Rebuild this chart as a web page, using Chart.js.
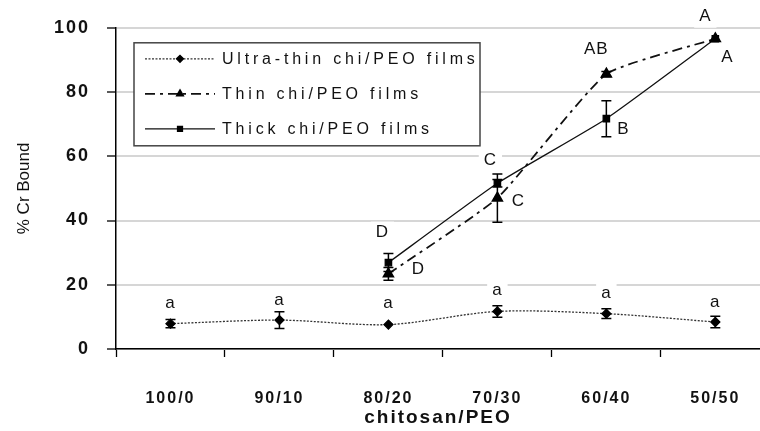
<!DOCTYPE html>
<html>
<head>
<meta charset="utf-8">
<script src="https://cdn.jsdelivr.net/npm/chart.js@4.4.1/dist/chart.umd.min.js"></script>
<style>
body { margin: 0; background: #fff; overflow: hidden; }
</style>
</head>
<body>
<canvas id="chart" width="760" height="431"></canvas>
<script>
// data
const categories = ['100/0', '90/10', '80/20', '70/30', '60/40', '50/50'];
const seriesNames = ['Ultra-thin chi/PEO films', 'Thin chi/PEO films', 'Thick chi/PEO films'];
const ultraThin = [7.9, 9.0, 7.6, 11.7, 11.0, 8.4];
const ultraThinErr = [1.3, 2.6, 0, 1.8, 1.5, 1.8];
const thin = [null, null, 23.4, 47.0, 85.6, 96.6];
const thinErr = [null, null, 2.0, 7.5, 0.8, 0];
const thick = [null, null, 26.9, 51.6, 71.7, 96.6];
const thickErr = [null, null, 2.8, 1.2, 5.6, 0];
const ultraThinLetters = ['a', 'a', 'a', 'a', 'a', 'a'];
const thinLetters = [null, null, 'D', 'C', 'AB', 'A'];
const thickLetters = [null, null, 'D', 'C', 'B', 'A'];

// where each letter sits relative to its point (px)
const ultraThinLetterPos = [[0, -20], [0, -20], [0, -21], [0, -21], [0, -20], [0, -20]];
const thinLetterPos = [null, null, [30, -5], [21, 3], [-10, -25], [-10, -22]];
const thickLetterPos = [null, null, [-6, -30], [-7, -23], [17, 11], [12, 19]];

const errors = [ultraThinErr, thinErr, thickErr];
const letters = [ultraThinLetters, thinLetters, thickLetters];
const letterPos = [ultraThinLetterPos, thinLetterPos, thickLetterPos];

const FONT = '"Liberation Sans", Arial, sans-serif';

function toPoints(arr) {
    return arr.map((v, i) => ({x: i, y: v}));
}

// error bars
const errorBars = {
    id: 'errorBars',
    afterDatasetsDraw(chart) {
        const ctx = chart.ctx;
        const xs = chart.scales.x, ys = chart.scales.y;
        ctx.save();
        ctx.strokeStyle = '#000';
        ctx.lineWidth = 1.5;
        errors.forEach((errs, d) => {
            const vals = chart.data.datasets[d].data;
            errs.forEach((e, i) => {
                if (!e || vals[i].y === null) return;
                const px = xs.getPixelForValue(i);
                const top = ys.getPixelForValue(vals[i].y + e);
                const bot = ys.getPixelForValue(vals[i].y - e);
                ctx.beginPath();
                ctx.moveTo(px, top); ctx.lineTo(px, bot);
                ctx.moveTo(px - 5, top); ctx.lineTo(px + 5, top);
                ctx.moveTo(px - 5, bot); ctx.lineTo(px + 5, bot);
                ctx.stroke();
            });
        });
        ctx.restore();
    }
};

// letter annotations + the legend box
function letterSpots(chart) {
    const out = [];
    const xs = chart.scales.x, ys = chart.scales.y;
    letters.forEach((arr, d) => {
        const vals = chart.data.datasets[d].data;
        arr.forEach((t, i) => {
            if (!t) return;
            const p = letterPos[d][i];
            out.push({t: t, x: xs.getPixelForValue(i) + p[0], y: ys.getPixelForValue(vals[i].y) + p[1]});
        });
    });
    return out;
}

const annotations = {
    id: 'annotations',
    beforeDraw(chart) {
        chart.ctx.letterSpacing = '2px';
        const s = chart.scales.y;
        if (!s._plainTitle) {
            const orig = s.drawTitle;
            s.drawTitle = function () {
                const c = this.ctx;
                const ls = c.letterSpacing;
                c.letterSpacing = '0px';
                orig.call(this);
                c.letterSpacing = ls;
            };
            s._plainTitle = true;
        }
    },
    beforeDatasetsDraw(chart) {
        const ctx = chart.ctx;
        const area = chart.chartArea;
        ctx.save();
        ctx.font = '17px ' + FONT;
        ctx.letterSpacing = '1px';
        ctx.fillStyle = '#fff';
        letterSpots(chart).forEach(s => {
            const w = ctx.measureText(s.t).width + 10;
            ctx.fillRect(s.x - w / 2, s.y - 11, w, 22);
        });

        // legend
        const left = area.left + 18, top = area.top + 15;
        const w = 346, h = 103;
        ctx.fillStyle = '#fff';
        ctx.fillRect(left, top, w, h);
        ctx.strokeStyle = '#444';
        ctx.lineWidth = 1.5;
        ctx.strokeRect(left, top, w, h);
        chart.data.datasets.forEach((ds, i) => {
            const y = top + 16 + i * 35;
            ctx.strokeStyle = ds.borderColor;
            ctx.lineWidth = ds.borderWidth;
            ctx.setLineDash(ds.borderDash || []);
            ctx.beginPath();
            ctx.moveTo(left + 11, y);
            ctx.lineTo(left + 81, y);
            ctx.stroke();
            ctx.setLineDash([]);
            ctx.fillStyle = '#000';
            ctx.strokeStyle = '#000';
            Chart.helpers.drawPoint(ctx, {pointStyle: ds.pointStyle, radius: 3.5, borderWidth: 1, rotation: 0}, left + 46, y);
            ctx.fillStyle = '#111';
            ctx.font = '16px ' + FONT;
            ctx.letterSpacing = '3.8px';
            ctx.textAlign = 'left';
            ctx.textBaseline = 'middle';
            ctx.fillText(ds.label, left + 88, y + 1);
        });
        ctx.restore();
    },
    afterDatasetsDraw(chart) {
        const ctx = chart.ctx;
        ctx.save();
        ctx.font = '17px ' + FONT;
        ctx.letterSpacing = '1px';
        ctx.fillStyle = '#111';
        ctx.textAlign = 'center';
        ctx.textBaseline = 'middle';
        letterSpots(chart).forEach(s => ctx.fillText(s.t, s.x, s.y));
        ctx.restore();
    }
};

new Chart(document.getElementById('chart'), {
    type: 'line',
    data: {
        datasets: [{
            label: seriesNames[0],
            data: toPoints(ultraThin),
            borderColor: '#333',
            borderWidth: 1.3,
            borderDash: [2, 1.5],
            pointStyle: 'rectRot',
            pointRadius: 4.5,
            pointBackgroundColor: '#000',
            pointBorderColor: '#000',
            tension: 0.3
        }, {
            label: seriesNames[1],
            data: toPoints(thin),
            borderColor: '#111',
            borderWidth: 1.8,
            borderDash: [10, 5, 3, 5],
            pointStyle: 'triangle',
            pointRadius: 5.5,
            pointBackgroundColor: '#000',
            pointBorderColor: '#000',
            tension: 0.15
        }, {
            label: seriesNames[2],
            data: toPoints(thick),
            borderColor: '#111',
            borderWidth: 1.3,
            pointStyle: 'rect',
            pointRadius: 4.5,
            pointBackgroundColor: '#000',
            pointBorderColor: '#000',
            tension: 0.15
        }]
    },
    options: {
        responsive: false,
        animation: false,
        layout: { autoPadding: false, padding: { top: 25, right: 0, bottom: 0, left: 0 } },
        plugins: {
            legend: { display: false },
            tooltip: { enabled: false }
        },
        scales: {
            x: {
                type: 'linear',
                min: -0.5,
                max: 5.41,
                afterBuildTicks: s => { s.ticks = categories.map((c, i) => ({value: i})); },
                afterFit: s => { s.height = 82; s.paddingLeft = 0; s.paddingRight = 0; },
                ticks: {
                    callback: v => categories[v],
                    color: '#111',
                    padding: 32,
                    maxRotation: 0,
                    font: { family: FONT, size: 16, weight: 'bold' }
                },
                grid: {
                    offset: true,
                    drawOnChartArea: false,
                    tickLength: 8,
                    tickColor: '#000',
                    tickWidth: 1.3
                },
                border: { color: '#000', width: 1.5 },
                title: {
                    display: true,
                    text: 'chitosan/PEO',
                    color: '#111',
                    padding: { top: 0, bottom: 2 },
                    font: { family: FONT, size: 19, weight: 'bold' }
                }
            },
            y: {
                min: 0,
                max: 100,
                ticks: {
                    stepSize: 20,
                    color: '#111',
                    padding: 17,
                    font: { family: FONT, size: 18, weight: 'bold' }
                },
                afterFit: s => { s.width = 116; },
                grid: {
                    color: '#d6d6d6',
                    lineWidth: 2,
                    tickLength: 9,
                    tickColor: '#000',
                    tickWidth: 1.3
                },
                border: { color: '#000', width: 1.5 },
                title: {
                    display: true,
                    text: '% Cr Bound',
                    color: '#111',
                    padding: { top: 14, bottom: 0 },
                    font: { family: FONT, size: 17 }
                }
            }
        }
    },
    plugins: [errorBars, annotations]
});
</script>
</body>
</html>
